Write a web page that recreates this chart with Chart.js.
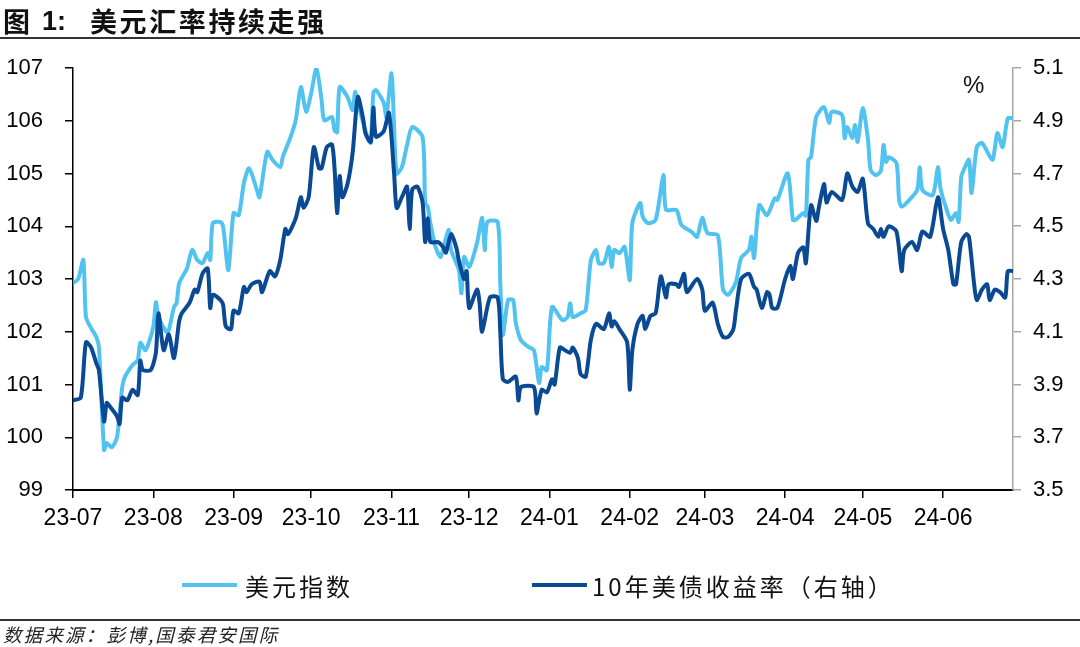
<!DOCTYPE html>
<html>
<head>
<meta charset="utf-8">
<script src="https://cdn.jsdelivr.net/npm/chart.js@4.4.1/dist/chart.umd.min.js"></script>
<style>
html,body{margin:0;padding:0;background:#fff;width:1080px;height:647px;overflow:hidden;}
#wrap{position:relative;width:1080px;height:647px;}
#c{position:absolute;left:0;top:0;}
.abs{position:absolute;white-space:nowrap;color:#111;}
.cjk{font-family:"Noto Sans CJK SC","Noto Sans",sans-serif;}
.lat{font-family:"Liberation Sans",Arial,sans-serif;}
.rule{position:absolute;left:0;width:1080px;background:#333;}
.lg-line{position:absolute;height:4px;}
</style>
</head>
<body>
<div id="wrap">
  <canvas id="c" width="1080" height="647"></canvas>
  <div class="abs cjk" style="left:3px;top:7px;font-size:27px;line-height:27px;font-weight:bold;">图</div>
  <div class="abs lat" style="left:42px;top:6px;font-size:27px;line-height:30px;font-weight:bold;">1:</div>
  <div class="abs cjk" id="title" style="left:90px;top:7px;font-size:27px;line-height:27px;font-weight:bold;letter-spacing:2.6px;"></div>
  <div class="rule" style="top:37px;height:2px;"></div>
  <div class="abs lat" id="unit" style="left:963px;top:72px;font-size:24px;line-height:26px;"></div>
  <div id="legend"></div>
  <div class="rule" style="top:619px;height:2px;"></div>
  <div class="abs cjk" id="source" style="left:3px;top:624px;font-size:18.5px;line-height:20px;font-style:italic;letter-spacing:2.2px;color:#222;"></div>
</div>
<script>
// ---------- text ----------
const titleText = '美元汇率持续走强';
const unitText = '%';
const sourceText = '数据来源：彭博,国泰君安国际';
const seriesNames = ['美元指数', '10年美债收益率（右轴）'];

// ---------- axes ----------
const baseDate = '2023-07-01';
const lastDay = 363; // 2024-06-28
const monthLabels = ['23-07','23-08','23-09','23-10','23-11','23-12','24-01','24-02','24-03','24-04','24-05','24-06'];
const leftTicks = [99,100,101,102,103,104,105,106,107];
const rightTicks = [3.5,3.7,3.9,4.1,4.3,4.5,4.7,4.9,5.1];

// ---------- data (days since 2023-07-01) ----------
const dxyDays = [0,2,4,5,7,9,10,12,13,15,17,19,20,23,25,26,28,31,32,33,36,37,39,40,41,44,46,48,50,52,53,54,57,58,60,62,64,66,68,71,72,75,77,80,81,84,86,88,90,92,94,96,97,100,101,102,103,106,108,109,111,114,115,116,117,120,121,123,124,125,127,129,131,135,136,137,138,140,142,145,146,149,150,151,153,156,158,159,160,164,165,166,168,170,171,173,176,178,180,181,183,185,189,191,192,193,196,198,200,202,203,205,207,208,209,211,213,215,216,219,220,222,225,228,229,233,235,239,241,243,245,249,251,253,256,258,261,262,263,265,268,271,272,276,278,279,282,283,284,285,287,290,292,293,297,298,299,301,302,303,305,307,308,310,312,313,314,315,318,319,320,323,326,327,328,332,334,335,337,339,341,342,343,344,346,347,349,351,355,356,357,359,361,363];
const dxyVals = [102.92,103.0,103.36,102.28,102.07,101.9,101.71,99.76,99.89,99.81,100.0,100.95,101.14,101.37,101.46,101.79,101.65,102.09,102.56,102.28,102.0,102.03,102.47,102.54,102.92,103.2,103.55,103.36,103.3,103.49,103.36,104.06,104.08,103.98,103.17,104.25,104.21,104.82,105.1,104.69,104.55,105.41,105.26,105.12,105.31,105.69,106.01,106.64,106.17,106.53,107.0,106.39,106.01,106.07,105.82,105.78,106.64,106.45,106.2,106.55,106.15,105.64,105.58,106.53,106.58,106.34,106.07,106.9,105.88,105.0,105.12,105.54,105.88,105.69,104.44,104.37,104.06,103.61,103.42,103.93,103.55,103.17,102.73,103.42,103.23,103.68,104.16,103.55,104.08,104.08,102.92,101.94,102.6,102.6,102.17,101.84,101.71,101.65,101.03,101.33,101.27,102.47,102.22,102.28,102.54,102.28,102.35,102.41,103.36,103.55,103.3,103.3,103.61,103.23,103.55,103.49,103.61,102.98,104.06,104.44,104.18,104.06,104.12,104.97,104.31,104.31,104.02,103.89,103.8,104.16,103.87,103.83,102.8,102.7,102.94,103.4,103.55,103.8,103.4,104.4,104.21,104.53,104.5,105.0,104.12,104.12,104.25,104.2,105.26,105.31,106.07,106.26,105.96,106.17,106.11,105.67,105.88,105.67,105.92,105.6,106.24,105.64,105.07,104.97,105.05,105.54,105.22,105.31,105.2,104.5,104.37,104.5,104.69,105.12,104.69,104.59,105.12,104.72,104.37,104.12,104.25,104.08,104.93,105.07,105.26,104.63,105.5,105.58,105.26,105.48,105.77,105.5,106.05,106.05];

const ustDays = [0,3,5,7,9,10,12,13,14,17,18,19,21,23,25,26,27,30,32,33,35,37,39,41,42,45,47,48,50,52,53,54,57,58,59,61,62,64,66,67,69,72,73,76,78,80,82,83,86,88,89,91,93,95,96,98,100,101,102,103,104,106,108,110,112,113,115,116,117,120,122,124,125,127,129,130,131,133,135,136,137,138,141,143,144,146,148,149,151,152,153,156,157,158,161,164,165,166,168,171,172,173,178,179,181,183,185,186,188,190,192,193,195,196,198,200,202,205,207,208,209,211,214,215,216,218,220,221,223,225,227,229,230,233,234,236,237,241,243,244,247,249,251,253,255,256,258,261,263,264,266,268,269,270,272,275,277,278,280,282,283,285,287,288,290,291,293,297,299,301,303,305,307,309,311,312,313,315,318,320,321,324,326,328,331,334,336,338,340,341,343,345,346,348,349,351,353,354,356,358,360,361,363];
const ustVals = [3.84,3.85,4.06,4.04,3.98,3.955,3.76,3.83,3.82,3.78,3.75,3.85,3.84,3.88,3.86,3.99,3.955,3.955,4.02,4.17,4.03,4.09,4.0,4.14,4.17,4.21,4.26,4.25,4.32,4.34,4.19,4.24,4.22,4.2,4.12,4.11,4.18,4.17,4.27,4.25,4.28,4.29,4.25,4.33,4.31,4.37,4.49,4.47,4.53,4.61,4.57,4.61,4.80,4.72,4.72,4.80,4.81,4.72,4.55,4.69,4.61,4.66,4.78,4.99,4.91,4.85,4.82,4.95,4.84,4.86,4.93,4.70,4.57,4.61,4.65,4.49,4.64,4.65,4.59,4.44,4.53,4.44,4.44,4.42,4.40,4.47,4.42,4.37,4.30,4.33,4.19,4.26,4.21,4.10,4.23,4.23,4.10,3.92,3.91,3.93,3.84,3.89,3.89,3.79,3.88,3.87,3.92,3.90,4.04,4.03,4.02,4.04,4.0,3.94,3.93,4.07,4.13,4.11,4.17,4.12,4.14,4.11,4.06,3.88,4.03,4.13,4.16,4.11,4.16,4.17,4.31,4.23,4.28,4.28,4.27,4.32,4.25,4.30,4.26,4.18,4.21,4.13,4.08,4.08,4.11,4.18,4.30,4.32,4.27,4.26,4.19,4.25,4.24,4.19,4.19,4.30,4.35,4.30,4.40,4.42,4.36,4.58,4.52,4.57,4.66,4.59,4.63,4.60,4.70,4.65,4.63,4.68,4.51,4.49,4.46,4.49,4.46,4.50,4.48,4.33,4.41,4.44,4.41,4.48,4.46,4.61,4.49,4.41,4.28,4.28,4.44,4.47,4.46,4.28,4.22,4.26,4.28,4.22,4.26,4.25,4.23,4.33,4.33];

// ---------- styles ----------
const lightBlue = '#52C3F1';
const darkBlue = '#0A4A94';

const DAY = 86400000;
const base = Date.parse(baseDate + 'T00:00:00Z');
const monthDays = monthLabels.map(l => {
  const yy = 2000 + parseInt(l.slice(0, 2), 10);
  const mm = parseInt(l.slice(3), 10) - 1;
  return Math.round((Date.UTC(yy, mm, 1) - base) / DAY);
});

const toPts = (xs, ys) => xs.map((x, i) => ({ x: x, y: ys[i] }));

document.getElementById('title').textContent = titleText;
document.getElementById('unit').textContent = unitText;
document.getElementById('source').textContent = sourceText;

const tickFont = { family: '"Liberation Sans", Arial, sans-serif', size: 22 };

const chart = new Chart(document.getElementById('c'), {
  type: 'line',
  data: {
    datasets: [
      { label: seriesNames[0], data: toPts(dxyDays, dxyVals), yAxisID: 'y', borderColor: lightBlue, backgroundColor: lightBlue, borderWidth: 4, pointRadius: 0, tension: 0.25, order: 2, borderJoinStyle: 'round', borderCapStyle: 'round' },
      { label: seriesNames[1], data: toPts(ustDays, ustVals), yAxisID: 'y2', borderColor: darkBlue, backgroundColor: darkBlue, borderWidth: 4, pointRadius: 0, tension: 0.25, order: 1, borderJoinStyle: 'round', borderCapStyle: 'round' }
    ]
  },
  options: {
    responsive: false,
    animation: false,
    devicePixelRatio: 1,
    layout: { padding: { left: 0, right: 0, top: 68, bottom: 107 } },
    plugins: { legend: { display: false }, tooltip: { enabled: false }, title: { display: false } },
    scales: {
      x: {
        type: 'linear', min: 0, max: lastDay, offset: false,
        afterFit: s => { s.height = 50; },
        afterBuildTicks: s => { s.ticks = monthDays.map(v => ({ value: v })); },
        ticks: {
          autoSkip: false, maxRotation: 0, padding: 7, color: '#000',
          font: { family: '"Liberation Sans", Arial, sans-serif', size: 23 },
          callback: v => { const i = monthDays.indexOf(v); return i >= 0 ? monthLabels[i] : ''; }
        },
        grid: { drawOnChartArea: false, drawTicks: true, tickLength: 8, color: '#000', lineWidth: 1.5 },
        border: { display: true, color: '#000', width: 2 }
      },
      y: {
        position: 'left', min: leftTicks[0], max: leftTicks[leftTicks.length - 1],
        afterFit: s => { s.width = 73; },
        afterBuildTicks: s => { s.ticks = leftTicks.map(v => ({ value: v })); },
        ticks: { padding: 22, color: '#000', font: tickFont, callback: v => String(v) },
        grid: { drawOnChartArea: false, drawTicks: true, tickLength: 8, color: '#000', lineWidth: 1.5 },
        border: { display: true, color: '#000', width: 1.5 }
      },
      y2: {
        position: 'right', min: rightTicks[0], max: rightTicks[rightTicks.length - 1],
        afterFit: s => { s.width = 67; },
        afterBuildTicks: s => { s.ticks = rightTicks.map(v => ({ value: v })); },
        ticks: { padding: 12, color: '#000', font: tickFont, callback: v => Number(v).toFixed(1) },
        grid: { drawOnChartArea: false, drawTicks: true, tickLength: 8, color: '#A6A6A6', lineWidth: 1.5 },
        border: { display: true, color: '#A6A6A6', width: 1.5 }
      }
    }
  }
});

// ---------- legend built from datasets ----------
const legendPos = [{ line: 182, text: 245 }, { line: 532, text: 592 }];
const lg = document.getElementById('legend');
chart.data.datasets.forEach((ds, i) => {
  const ln = document.createElement('div');
  ln.className = 'lg-line';
  ln.style.left = legendPos[i].line + 'px';
  ln.style.top = '583px';
  ln.style.width = '55px';
  ln.style.background = ds.borderColor;
  lg.appendChild(ln);
  const tx = document.createElement('div');
  tx.className = 'abs cjk';
  tx.style.left = legendPos[i].text + 'px';
  tx.style.top = '573px';
  tx.style.fontSize = '24px';
  tx.style.lineHeight = '26px';
  tx.style.letterSpacing = '3px';
  tx.textContent = ds.label;
  lg.appendChild(tx);
});
</script>
</body>
</html>
